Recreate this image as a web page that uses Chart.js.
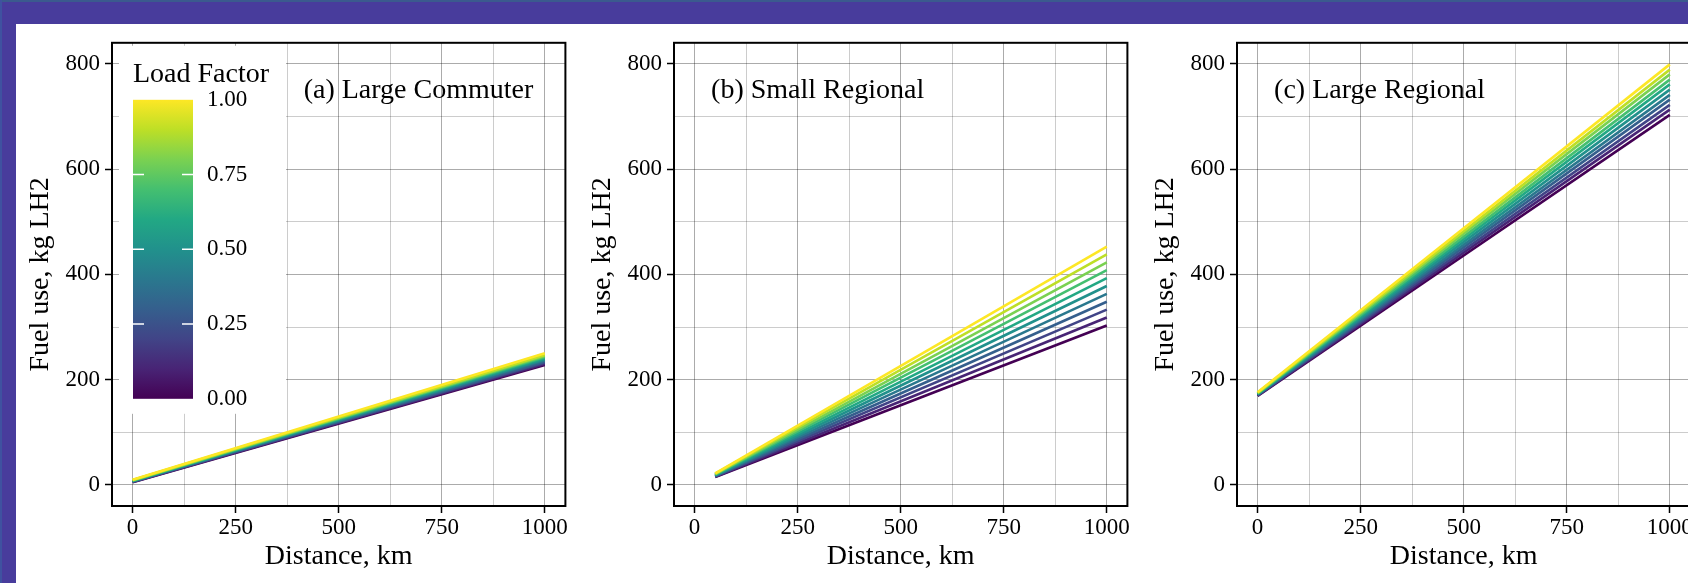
<!DOCTYPE html>
<html>
<head>
<meta charset="utf-8">
<script src="https://cdn.jsdelivr.net/npm/chart.js@4.4.1/dist/chart.umd.min.js"></script>
<style>
  html, body { margin: 0; padding: 0; overflow: hidden; }
  body { width: 1688px; height: 583px; background: #483c9c; position: relative; }
  #sheet { position: absolute; left: 16px; top: 24px; width: 1700px; height: 559px; background: #fff; }
  #topline { position: absolute; left: 0; top: 0; width: 1688px; height: 2px; background: #3b5a8e; }
  #leftline { position: absolute; left: 0; top: 0; width: 2px; height: 583px; background: #3f52a0; }
  canvas { position: absolute; top: 24px; }
</style>
</head>
<body>
<div id="topline"></div>
<div id="leftline"></div>
<div id="sheet"></div>
<canvas id="panelA" width="563" height="559" style="left:16px"></canvas>
<canvas id="panelB" width="563" height="559" style="left:578px"></canvas>
<canvas id="panelC" width="563" height="559" style="left:1141px"></canvas>
<script>
// load factor of each line, 0 .. 1
const loadFactors = [0, 0.1, 0.2, 0.3, 0.4, 0.5, 0.6, 0.7, 0.8, 0.9, 1.0];
const viridis = ['#440154', '#482475', '#414487', '#355f8d', '#2a788e', '#21918c',
                 '#22a884', '#44bf70', '#7ad151', '#bddf26', '#fde725'];

// (a) Large Commuter
const distA = [0, 1000];
const fuelStartA = [5, 5.5, 6, 6.5, 7, 7.5, 8, 8.5, 9, 9.5, 10];
const fuelEndA = [228, 230, 232, 234, 237, 239, 241, 243, 245, 247, 250];

// (b) Small Regional
const distB = [50, 1000];
const fuelStartB = [15, 15.7, 16.4, 17.1, 17.8, 18.5, 19.2, 19.9, 20.6, 21.3, 22];
const fuelEndB = [303, 318, 333, 348, 363, 378, 393, 408, 423, 438, 453];

// (c) Large Regional
const distC = [0, 1000];
const fuelStartC = [169, 169.7, 170.4, 171.1, 171.8, 172.5, 173.2, 173.9, 174.6, 175.3, 176];
const fuelEndC = [703, 713, 722, 732, 741, 751, 761, 770, 780, 789, 799];

const xMajor = [0, 250, 500, 750, 1000];
const xMinor = [125, 375, 625, 875];
const yMajor = [0, 200, 400, 600, 800];
const yMinor = [100, 300, 500, 700];
const legendTicks = [0, 0.25, 0.5, 0.75, 1];
const legendLabels = ['0.00', '0.25', '0.50', '0.75', '1.00'];

const FONT = "'Liberation Serif', 'Times New Roman', serif";
const MAJOR_GRID = 'rgba(0,0,0,0.33)';
const MINOR_GRID = 'rgba(0,0,0,0.2)';

const framePlugin = {
  id: 'frame',
  afterDatasetsDraw(chart) {
    const ca = chart.chartArea, c = chart.ctx;
    c.save();
    c.strokeStyle = '#000';
    c.lineWidth = 2;
    c.strokeRect(ca.left, ca.top, ca.right - ca.left, ca.bottom - ca.top);
    c.restore();
  }
};

function panelLabel(text, xVal, yVal) {
  return {
    id: 'panelLabel',
    afterDatasetsDraw(chart) {
      const c = chart.ctx;
      c.save();
      c.font = '28px ' + FONT;
      c.fillStyle = '#000';
      c.textAlign = 'left';
      c.textBaseline = 'middle';
      c.fillText(text, chart.scales.x.getPixelForValue(xVal), chart.scales.y.getPixelForValue(yVal));
      c.restore();
    }
  };
}

const colorbarPlugin = {
  id: 'colorbar',
  beforeDatasetsDraw(chart) {
    const ca = chart.chartArea, c = chart.ctx;
    c.save();
    c.fillStyle = '#fff';
    c.fillRect(ca.left + 7, ca.top + 3, 167, 368);
    c.fillStyle = '#000';
    c.font = '28px ' + FONT;
    c.textAlign = 'left';
    c.textBaseline = 'alphabetic';
    c.fillText('Load Factor', ca.left + 21, ca.top + 39);
    const bx = ca.left + 21, bw = 60, top = ca.top + 57, bottom = ca.top + 356;
    const g = c.createLinearGradient(0, bottom, 0, top);
    viridis.forEach((col, i) => g.addColorStop(loadFactors[i], col));
    c.fillStyle = g;
    c.fillRect(bx, top, bw, bottom - top);
    c.font = '23px ' + FONT;
    c.textBaseline = 'middle';
    legendTicks.forEach((t, i) => {
      const y = bottom - t * (bottom - top);
      if (t > 0 && t < 1) {
        c.strokeStyle = '#fff';
        c.lineWidth = 1.5;
        c.beginPath();
        c.moveTo(bx, y); c.lineTo(bx + 11, y);
        c.moveTo(bx + bw - 11, y); c.lineTo(bx + bw, y);
        c.stroke();
      }
      c.fillStyle = '#000';
      c.fillText(legendLabels[i], ca.left + 95, y);
    });
    c.restore();
  }
};

function makeChart(id, dist, starts, ends, label, labelX, withLegend) {
  const datasets = [];
  for (let i = loadFactors.length - 1; i >= 0; i--) {
    datasets.push({
      label: 'LF ' + loadFactors[i],
      data: [{x: dist[0], y: starts[i]}, {x: dist[1], y: ends[i]}],
      borderColor: viridis[i],
      borderWidth: 2.6,
      pointRadius: 0,
      tension: 0,
      fill: false
    });
  }
  const plugins = [framePlugin, panelLabel(label, labelX, 750)];
  if (withLegend) plugins.push(colorbarPlugin);

  return new Chart(document.getElementById(id), {
    type: 'line',
    data: { datasets },
    plugins,
    options: {
      responsive: false,
      animation: false,
      layout: { padding: { left: 0, top: 15, right: 13.6, bottom: 0 } },
      plugins: { legend: { display: false }, tooltip: { enabled: false } },
      scales: {
        x: {
          type: 'linear', min: -50, max: 1050,
          afterBuildTicks: s => { s.ticks = xMajor.concat(xMinor).sort((a, b) => a - b).map(v => ({value: v})); },
          afterFit: s => { s.height = 77; },
          border: { display: false },
          grid: {
            color: ctx => xMajor.includes(ctx.tick.value) ? MAJOR_GRID : MINOR_GRID,
            lineWidth: 1,
            tickLength: 7,
            tickWidth: 1.5,
            tickColor: ctx => xMajor.includes(ctx.tick.value) ? '#000' : 'rgba(0,0,0,0)'
          },
          ticks: {
            autoSkip: false, maxRotation: 0, padding: 1, color: '#000',
            font: { family: FONT, size: 23 },
            callback: v => xMajor.includes(v) ? String(v) : ''
          },
          title: { display: true, text: 'Distance, km', color: '#000',
                   font: { family: FONT, size: 28 }, padding: { top: 0, bottom: 10 } }
        },
        y: {
          type: 'linear', min: -40, max: 840,
          afterBuildTicks: s => { s.ticks = yMajor.concat(yMinor).sort((a, b) => a - b).map(v => ({value: v})); },
          afterFit: s => { s.width = 96; },
          border: { display: false },
          grid: {
            color: ctx => yMajor.includes(ctx.tick.value) ? MAJOR_GRID : MINOR_GRID,
            lineWidth: 1,
            tickLength: 7,
            tickWidth: 1.5,
            tickColor: ctx => yMajor.includes(ctx.tick.value) ? '#000' : 'rgba(0,0,0,0)'
          },
          ticks: {
            autoSkip: false, padding: 5, color: '#000',
            font: { family: FONT, size: 23 },
            callback: v => yMajor.includes(v) ? String(v) : ''
          },
          title: { display: true, text: 'Fuel use, kg LH2', color: '#000',
                   font: { family: FONT, size: 28 }, padding: { top: 8, bottom: 0 } }
        }
      }
    }
  });
}

makeChart('panelA', distA, fuelStartA, fuelEndA, '(a) Large Commuter', 415, true);
makeChart('panelB', distB, fuelStartB, fuelEndB, '(b) Small Regional', 40, false);
makeChart('panelC', distC, fuelStartC, fuelEndC, '(c) Large Regional', 40, false);
</script>
</body>
</html>
